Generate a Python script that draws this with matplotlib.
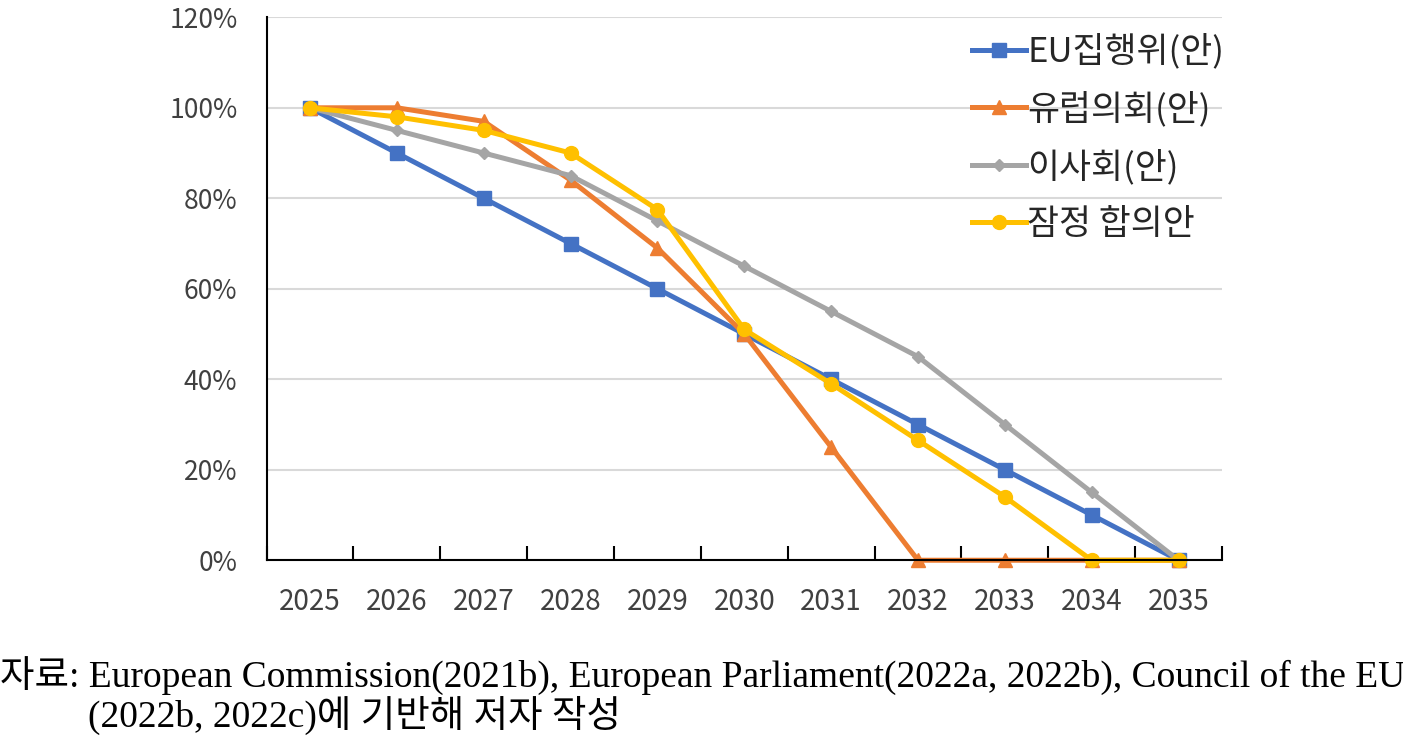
import numpy as np
import matplotlib
matplotlib.use('Agg')
import matplotlib.pyplot as plt
from matplotlib.ticker import FixedLocator, PercentFormatter

plt.rcParams['font.family'] = ['Noto Sans CJK KR', 'DejaVu Sans']

years = ['2025', '2026', '2027', '2028', '2029', '2030', '2031', '2032', '2033', '2034', '2035']
eu_commission = [100, 90, 80, 70, 60, 50, 40, 30, 20, 10, 0]
eu_parliament = [100, 100, 97, 84, 69, 50, 25, 0, 0, 0, 0]
eu_council = [100, 95, 90, 85, 75, 65, 55, 45, 30, 15, 0]
provisional = [100, 98, 95, 90, 77.5, 51, 39, 26.5, 14, 0, 0]

series_names = ['EU집행위(안)', '유럽의회(안)', '이사회(안)', '잠정 합의안']

x = np.arange(len(years))

fig = plt.figure(figsize=(14.03, 7.52), dpi=100)
ax = fig.add_axes([0.190, 0.255, 0.681, 0.722])

ax.plot(x, eu_commission, color='#4472C4', lw=3.6, marker='s', ms=10, label=series_names[0], clip_on=False)
ax.plot(x, eu_parliament, color='#ED7D31', lw=3.6, marker='^', ms=10, label=series_names[1], clip_on=False)
ax.plot(x, eu_council, color='#A5A5A5', lw=3.6, marker='D', ms=6, label=series_names[2], clip_on=False)
ax.plot(x, provisional, color='#FFC000', lw=3.6, marker='o', ms=10, label=series_names[3], clip_on=False)

ax.set_xlim(-0.5, len(years) - 0.5)
ax.set_ylim(0, 120)
ax.yaxis.set_major_locator(FixedLocator([0, 20, 40, 60, 80, 100, 120]))
ax.yaxis.set_major_formatter(PercentFormatter(decimals=0))
ax.grid(axis='y', color='#D9D9D9', lw=1.5)
ax.set_axisbelow(True)

ax.set_xticks(x)
ax.set_xticklabels(years)
ax.set_xticks(np.arange(-0.5, len(years)), minor=True)
ax.tick_params(axis='x', which='major', length=0, pad=19, labelsize=20, colors='#404040')
ax.tick_params(axis='x', which='minor', length=10, width=1.5, direction='in')
ax.tick_params(axis='y', length=0, pad=21, labelsize=19, colors='#404040')

for side in ['top', 'right']:
    ax.spines[side].set_visible(False)
for side in ['left', 'bottom']:
    ax.spines[side].set_linewidth(1.5)
    ax.spines[side].set_color('black')

leg = ax.legend(loc='upper right', bbox_to_anchor=(1.028, 1.014), frameon=False,
                fontsize=25, handlelength=1.55, labelspacing=0.63, handletextpad=0.05,
                borderpad=0.2)
for t in leg.get_texts():
    t.set_color('#262626')

cap_font = ['Liberation Serif', 'Noto Sans CJK KR']
fig.text(0.0, 0.100, '자료: European Commission(2021b), European Parliament(2022a, 2022b), Council of the EU',
         family=cap_font, fontsize=27, va='center')
fig.text(0.063, 0.049, '(2022b, 2022c)에 기반해 저자 작성',
         family=cap_font, fontsize=27, va='center')

fig.savefig('out.png', dpi=100)
